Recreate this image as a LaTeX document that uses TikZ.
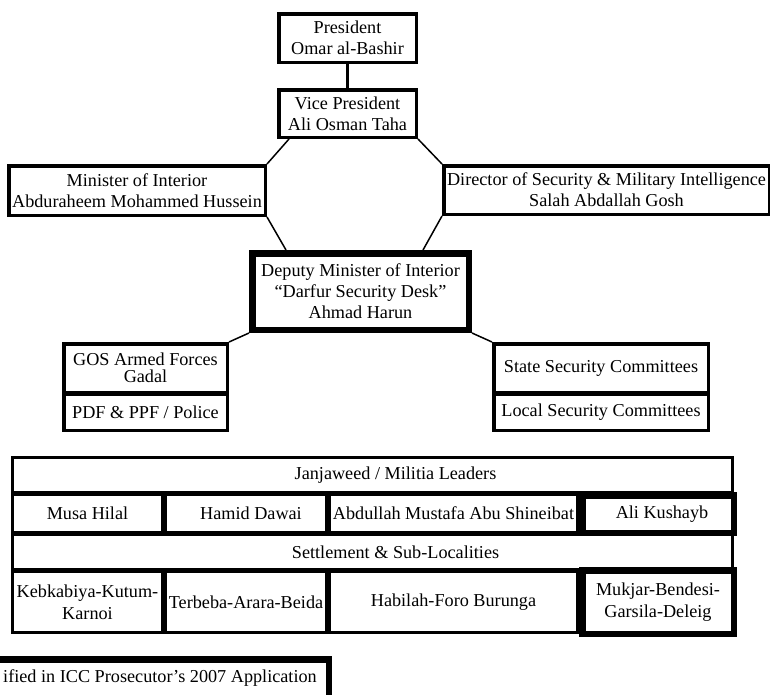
\documentclass[tikz,border=0pt]{standalone}
\usepackage{fontspec}
\setmainfont{Liberation Serif}
\usetikzlibrary{calc}
\begin{document}
\begin{tikzpicture}[x=1pt,y=-1pt,
  txt/.style={inner sep=0pt, align=center, font=\fontsize{18.2}{21}\selectfont},
  plainbox/.style={txt, draw, line width=3.5pt},
  cellbox/.style={txt, draw, line width=3.2pt},
  thickbox/.style={txt, draw, line width=6.5pt},
  conn/.style={line width=1.5pt},
  stem/.style={line width=3.2pt}]
\useasboundingbox (0,0) rectangle (770,694);
% top hierarchy
\node[plainbox, minimum width=137.5pt, minimum height=48.5pt] (pres) at (347.5,38) {President\\Omar al-Bashir};
\node[plainbox, minimum width=137.5pt, minimum height=47.5pt] (vp) at (347.5,113.5) {Vice President\\Ali Osman Taha};
\node[plainbox, minimum width=256.5pt, minimum height=49.5pt] (mint) at (137,190.5) {Minister of Interior\\Abduraheem Mohammed Hussein};
\node[plainbox, minimum width=325.5pt, minimum height=48.5pt] (dir) at (606.5,190) {Director of Security \& Military Intelligence\\Salah Abdallah Gosh};
\node[thickbox, minimum width=216.5pt, minimum height=76.5pt] (dep) at (360.5,291.5) {Deputy Minister of Interior\\``Darfur Security Desk''\\Ahmad Harun};
% side groups
\node[plainbox, minimum width=163.5pt, minimum height=48.5pt, font=\fontsize{18.2}{17}\selectfont] (gos) at (145.5,368) {GOS Armed Forces\\Gadal};
\node[plainbox, minimum width=163.5pt, minimum height=36.5pt] (pdf) at (145.5,412) {PDF \& PPF / Police};
\node[plainbox, minimum width=214.5pt, minimum height=48.5pt] (ssc) at (601,368) {State Security Committees};
\node[plainbox, minimum width=214.5pt, minimum height=36.5pt] (lsc) at (601,412) {Local Security Committees};
% connectors
\draw[stem] (pres.south) -- (vp.north);
\draw[conn] ($(vp.south west)+(12,0)$) -- (mint.north east);
\draw[conn] (mint.south east) -- ($(dep.north west)+(37,0)$);
\draw[conn] (vp.south east) -- (dir.north west);
\draw[conn] (dir.south west) -- ($(dep.north east)+(-49,0)$);
\draw[conn] (dep.south west) -- (gos.north east);
\draw[conn] (dep.south east) -- (ssc.north west);
% table
\node[cellbox, minimum width=719.8pt, minimum height=34.8pt, label={[txt, xshift=23pt]center:Janjaweed / Militia Leaders}] (jl) at (372.5,475) {};
\node[cellbox, minimum width=149.8pt, minimum height=37.8pt] (musa) at (87.5,513.5) {Musa Hilal};
\node[cellbox, minimum width=160.8pt, minimum height=37.8pt] (hamid) at (246,513.5) {\hspace*{10pt}Hamid Dawai};
\node[cellbox, minimum width=247.8pt, minimum height=37.8pt] (abd) at (453.5,513.5) {Abdullah Mustafa Abu Shineibat};
\node[cellbox, minimum width=719.8pt, minimum height=34.8pt, label={[txt, xshift=23pt]center:Settlement \& Sub-Localities}] (settle) at (372.5,552) {};
\node[cellbox, minimum width=149.8pt, minimum height=60.8pt, font=\fontsize{18.2}{22}\selectfont] (keb) at (87.5,602) {Kebkabiya-Kutum-\\Karnoi};
\node[cellbox, minimum width=160.8pt, minimum height=60.8pt] (ter) at (246,602) {Terbeba-Arara-Beida};
\node[cellbox, minimum width=247.8pt, minimum height=60.8pt] (hab) at (453.5,602) {Habilah-Foro Burunga};
\node[thickbox, minimum width=151.5pt, minimum height=37.5pt] (ali) at (658,514) {\hspace*{8pt}Ali Kushayb};
\node[thickbox, minimum width=151.5pt, minimum height=63.5pt, font=\fontsize{18.2}{22}\selectfont] (muk) at (658,602) {Mukjar-Bendesi-\\Garsila-Deleig};
% legend
\node[thickbox, minimum width=365.5pt, minimum height=47.5pt] (legend) at (146,683) {};
\node[txt, anchor=east] (legendtext) at (317,678) {ified in ICC Prosecutor's 2007 Application};
\end{tikzpicture}
\end{document}
